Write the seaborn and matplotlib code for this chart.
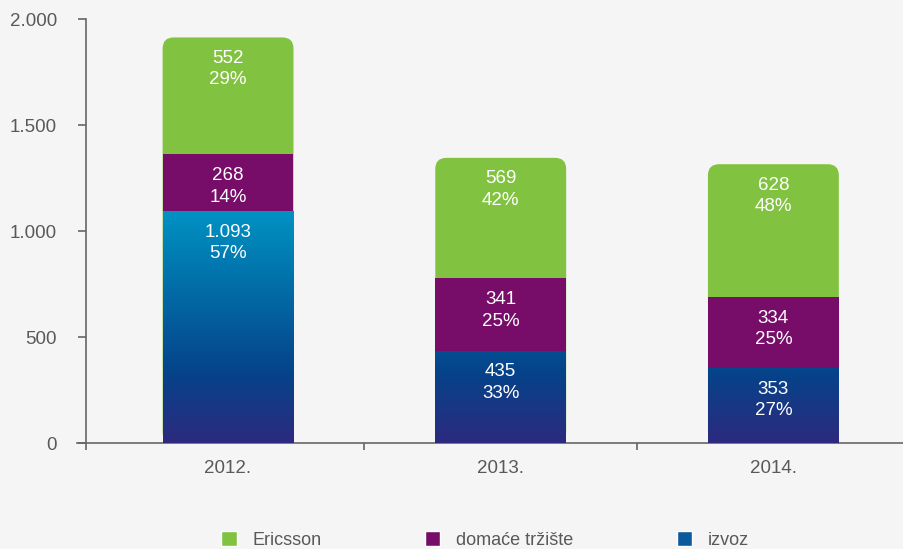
import numpy as np
import pandas as pd
import matplotlib
matplotlib.use("Agg")
import matplotlib.pyplot as plt
import seaborn as sns
from matplotlib.patches import FancyBboxPatch, Patch
from matplotlib.colors import LinearSegmentedColormap
from matplotlib.ticker import FuncFormatter

# data
years = ['2012.', '2013.', '2014.']
ericsson = [552, 569, 628]
domace = [268, 341, 334]
izvoz = [1093, 435, 353]
ericsson_pct = [29, 42, 48]
domace_pct = [14, 25, 25]
izvoz_pct = [57, 33, 27]
series_names = ['Ericsson', 'domaće tržište', 'izvoz']

# style
bg = '#f5f5f5'
green = '#81c341'
purple = '#770d69'
blue_mid = '#0a5a9c'
axis_col = '#666666'
text_col = '#595959'
blue_cmap = LinearSegmentedColormap.from_list(
    'izvoz', [(0, '#2d2a7e'), (0.3, '#05438a'), (1, '#0093c3')])

W, H = 904, 549
fig = plt.figure(figsize=(W / 100, H / 100), dpi=100)
fig.patch.set_facecolor(bg)
sns.set_style('white')
plt.rcParams['font.family'] = ['Liberation Sans', 'DejaVu Sans']

ax = fig.add_axes([77 / W, (H - 443) / H, (W - 77) / W, 424 / H])
ax.set_facecolor(bg)

df = pd.DataFrame({'year': years, 'ericsson': ericsson, 'domace': domace, 'izvoz': izvoz})
df['top_dom'] = df['izvoz'] + df['domace']
df['total'] = df['top_dom'] + df['ericsson']

bar_w = 0.48
# overlapping cumulative bars: total (green), izvoz+domace (purple), izvoz (blue)
sns.barplot(data=df, x='year', y='total', color=green, width=bar_w, saturation=1, ax=ax)
sns.barplot(data=df, x='year', y='top_dom', color=purple, width=bar_w, saturation=1, ax=ax)
sns.barplot(data=df, x='year', y='izvoz', color=blue_mid, width=bar_w, saturation=1, ax=ax)

xlim = (-0.554, 2.479)
ylim = (0, 2000)
ax.set_xlim(xlim)
ax.set_ylim(ylim)

patches = list(ax.patches)
green_p, purple_p, blue_p = patches[0:3], patches[3:6], patches[6:9]

# rounded tops for green bars
px_per_x = (W - 77) / (xlim[1] - xlim[0])
px_per_y = 424 / (ylim[1] - ylim[0])
r = 11 / px_per_x
aspect = px_per_x / px_per_y
for p in green_p:
    x, y, w, h = p.get_x(), p.get_y(), p.get_width(), p.get_height()
    p.set_visible(False)
    rp = FancyBboxPatch((x, y), w, h, boxstyle=f'round,pad=0,rounding_size={r}',
                        mutation_aspect=aspect, facecolor=green, edgecolor='none', zorder=1)
    ax.add_patch(rp)
for p in purple_p:
    p.set_zorder(2)
    p.set_edgecolor('none')

# gradient fill for izvoz bars
grad = np.linspace(0, 1, 256).reshape(-1, 1)
for p in blue_p:
    x, w = p.get_x(), p.get_width()
    p.set_facecolor('none')
    p.set_edgecolor('none')
    p.set_zorder(3)
    im = ax.imshow(grad, cmap=blue_cmap, origin='lower', aspect='auto',
                   extent=(x, x + w, 0, 1100), zorder=3)
    im.set_clip_path(p)
ax.set_xlim(xlim)
ax.set_ylim(ylim)

# value labels
def lab(vals, pcts, tops):
    for i, (v, pc, t) in enumerate(zip(vals, pcts, tops)):
        s = f'{v:,}'.replace(',', '.') + f'\n{pc}%'
        ax.annotate(s, (i, t), xytext=(0, -9), textcoords='offset points',
                    ha='center', va='top', color='white', fontsize=13.5,
                    linespacing=1.35, zorder=5)

lab(ericsson, ericsson_pct, df['total'])
lab(domace, domace_pct, df['top_dom'])
lab(izvoz, izvoz_pct, df['izvoz'])

# axes styling
sns.despine(ax=ax, top=True, right=True)
ax.spines['left'].set_position(('data', -0.521))
for s in ['left', 'bottom']:
    ax.spines[s].set_color(axis_col)
    ax.spines[s].set_linewidth(1.2)

ax.set_yticks([0, 500, 1000, 1500, 2000])
ax.yaxis.set_major_formatter(FuncFormatter(lambda v, _: f'{v:,.0f}'.replace(',', '.')))
ax.tick_params(axis='y', direction='out', length=6, width=1.2, color=axis_col,
               labelcolor=text_col, labelsize=13.5, pad=15, left=True)

ax.set_xticks([-0.521, 0.5, 1.5])
ax.set_xticklabels([])
ax.set_xticks([0, 1, 2], minor=True)
ax.set_xticklabels(years, minor=True)
ax.tick_params(axis='x', which='major', direction='out', length=5, width=1.2,
               color=axis_col, bottom=True)
ax.tick_params(axis='x', which='minor', length=0, labelcolor=text_col,
               labelsize=13.5, pad=12)
ax.set_xlabel('')
ax.set_ylabel('')

# legend
handles = [Patch(facecolor=green), Patch(facecolor=purple), Patch(facecolor=blue_mid)]
fig.legend(handles, series_names, loc='center', bbox_to_anchor=(485 / W, 9 / H),
           ncol=3, frameon=False, fontsize=13, labelcolor=text_col,
           handlelength=0.85, handleheight=0.85, handletextpad=0.85, columnspacing=5.75)

fig.savefig('out.png', dpi=100, facecolor=bg)
